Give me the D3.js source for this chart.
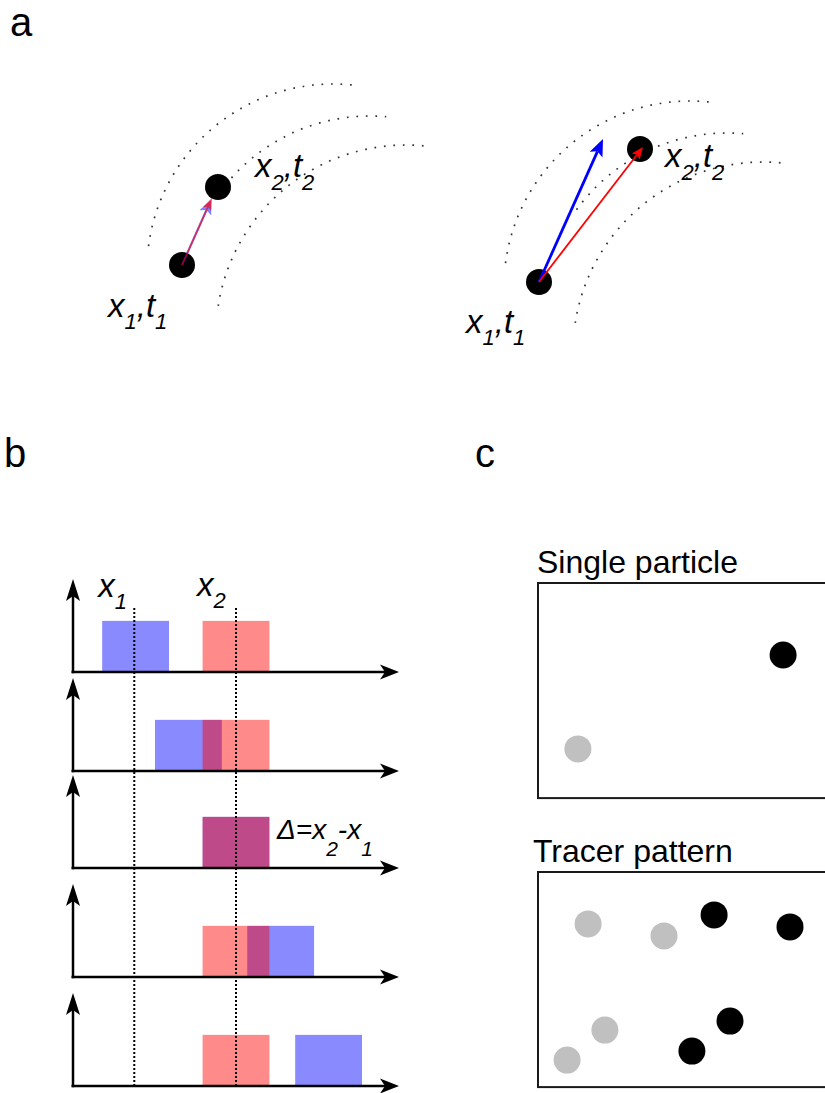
<!DOCTYPE html>
<html>
<head>
<meta charset="utf-8">
<script src="https://cdn.jsdelivr.net/npm/d3@7"></script>
<style>
  html, body { margin: 0; padding: 0; background: #fff; }
  svg { display: block; }
  text { font-family: "Liberation Sans", Arial, sans-serif; fill: #000; }
</style>
</head>
<body>
<svg id="fig" width="825" height="1093"></svg>
<script>
// ---------- data ----------
const panelIds = ["a", "b", "c"];

// Panel a: streamlines (arc centre, radius, angular extent in degrees) and particles, in field units
const streamCenters = [[23.3, 21.0], [27.0, 24.2], [30.6, 27.5]];
const streamRadii = [18.6, 18.6, 19.0];
const streamStartDeg = [187.4, 216.0, 188.8];
const streamEndDeg = [277.4, 275.0, 276.0];
const rightShift = [35.7, 1.7];                 // offset of the second sketch
const leftParticles = [[8.2, 20.5], [11.8, 12.7]];
const rightParticles = [[43.9, 22.2], [54.0, 8.9]];
const leftBlueTip = [11.1, 14.0];
const leftRedTip = [11.2, 13.8];
const rightBlueTip = [50.3, 7.9];
const rightRedTip = [54.3, 8.7];

// Panel b: interrogation windows and correlation peaks
const windowPos = [1.88, 5.0];                  // x1, x2
const windowSubs = ["1", "2"];
const windowWidth = 2.05;
const peakHeight = 0.55;
const bluePos = [1.92, 3.54, 5.0, 6.37, 7.84];
const redPos = [5.0, 5.0, 5.0, 5.0, 5.0];

// Panel c: particle images at t1 (grey) and t2 (black)
const singleT1 = [[1.33, 5.53]];
const singleT2 = [[8.17, 2.40]];
const tracerT1 = [[1.67, 1.73], [4.20, 2.13], [2.23, 5.27], [0.97, 6.27]];
const tracerT2 = [[5.87, 1.43], [8.40, 1.83], [6.40, 4.97], [5.13, 5.97]];

// ---------- helpers ----------
const svg = d3.select("#fig");

function subText(g, x, y, parts, size, subSize, shift, italic) {
  const t = g.append("text").attr("x", x).attr("y", y)
    .attr("font-size", size).attr("font-style", italic ? "italic" : "normal");
  let down = false;
  parts.forEach(([s, isSub]) => {
    const ts = t.append("tspan").text(s);
    if (isSub && !down) { ts.attr("dy", shift).attr("font-size", subSize); down = true; }
    else if (isSub) { ts.attr("font-size", subSize); }
    else if (!isSub && down) { ts.attr("dy", -shift); down = false; }
  });
  return t;
}

function arrow(g, x0, y0, x1, y1, o) {
  const dx = x1 - x0, dy = y1 - y0, d = Math.hypot(dx, dy);
  const ux = dx / d, uy = dy / d, px = -uy, py = ux;
  const nx = x1 - ux * (o.len - o.notch), ny = y1 - uy * (o.len - o.notch);
  const bx = x1 - ux * o.len, by = y1 - uy * o.len;
  const grp = g.append("g").attr("opacity", o.opacity == null ? 1 : o.opacity);
  grp.append("line").attr("x1", x0).attr("y1", y0).attr("x2", nx).attr("y2", ny)
    .attr("stroke", o.color).attr("stroke-width", o.width);
  grp.append("path")
    .attr("d", d3.line()([[x1, y1], [bx + px * o.half, by + py * o.half], [nx, ny], [bx - px * o.half, by - py * o.half]]) + "Z")
    .attr("fill", o.color);
}

// ---------- panel labels ----------
const labelPos = { a: [10, 36], b: [4, 467], c: [475, 467] };
svg.selectAll("text.panel").data(panelIds).join("text")
  .attr("class", "panel")
  .attr("x", d => labelPos[d][0]).attr("y", d => labelPos[d][1])
  .attr("font-size", 40).text(d => d);

// ---------- panel a ----------
const ax = d3.scaleLinear().domain([0, 72.5]).range([100, 825]);
const ay = d3.scaleLinear().domain([0, 30]).range([60, 360]);
const gA = svg.append("g");

function sketch(offset, particles) {
  const g = gA.append("g");
  // dotted streamlines
  streamCenters.forEach((c, i) => {
    const cx = ax(c[0] + offset[0]), cy = ay(c[1] + offset[1]);
    const r = ax(c[0] + streamRadii[i]) - ax(c[0]);
    const p = d3.path();
    const a0 = streamStartDeg[i] * Math.PI / 180, a1 = streamEndDeg[i] * Math.PI / 180;
    p.moveTo(cx + r * Math.cos(a0), cy + r * Math.sin(a0));
    p.arc(cx, cy, r, a0, a1, false);
    g.append("path").attr("d", p.toString()).attr("fill", "none")
      .attr("stroke", "#333").attr("stroke-width", 1.7)
      .attr("stroke-dasharray", "1.7 7.8");
  });
  // particle images
  g.selectAll("circle").data(particles).join("circle")
    .attr("cx", d => ax(d[0])).attr("cy", d => ay(d[1])).attr("r", 13).attr("fill", "#000");
  return g;
}

const gLeft = sketch([0, 0], leftParticles);
arrow(gLeft, ax(leftParticles[0][0]), ay(leftParticles[0][1]), ax(leftBlueTip[0]), ay(leftBlueTip[1]),
  { color: "#0000ff", width: 2.2, len: 14, half: 6.5, notch: 3, opacity: 0.5 });
arrow(gLeft, ax(leftParticles[0][0]), ay(leftParticles[0][1]), ax(leftRedTip[0]), ay(leftRedTip[1]),
  { color: "#ff0000", width: 1.6, len: 12, half: 4.5, notch: 2.5, opacity: 0.65 });

const gRight = sketch(rightShift, rightParticles);
arrow(gRight, ax(rightParticles[0][0]), ay(rightParticles[0][1]), ax(rightBlueTip[0]), ay(rightBlueTip[1]),
  { color: "#0000ff", width: 2.8, len: 17, half: 7, notch: 3.5 });
arrow(gRight, ax(rightParticles[0][0]), ay(rightParticles[0][1]), ax(rightRedTip[0]), ay(rightRedTip[1]),
  { color: "#ff0000", width: 1.8, len: 12, half: 5, notch: 2.5 });

subText(gA, 108, 317, [["x", false], ["1", true], [",", false], ["t", false], ["1", true]], 33, 22, 12, true);
subText(gA, 255, 177, [["x", false], ["2", true], [",", false], ["t", false], ["2", true]], 33, 22, 13, true);
subText(gA, 466, 333, [["x", false], ["1", true], [",", false], ["t", false], ["1", true]], 33, 22, 12, true);
subText(gA, 665, 167, [["x", false], ["2", true], [",", false], ["t", false], ["2", true]], 33, 22, 13, true);

// ---------- panel b ----------
const bx = d3.scaleLinear().domain([0, 10]).range([73, 399]);
const rowAxisY = [672, 771, 868, 977, 1086];
const axisH = 93;
const gB = svg.append("g");

rowAxisY.forEach((y0, i) => {
  const by = d3.scaleLinear().domain([0, 1]).range([y0, y0 - axisH]);
  const row = gB.append("g");
  row.append("rect")
    .attr("x", bx(bluePos[i] - windowWidth / 2)).attr("width", bx(windowWidth) - bx(0))
    .attr("y", by(peakHeight)).attr("height", by(0) - by(peakHeight))
    .attr("fill", "#0000ff").attr("fill-opacity", 0.46);
  row.append("rect")
    .attr("x", bx(redPos[i] - windowWidth / 2)).attr("width", bx(windowWidth) - bx(0))
    .attr("y", by(peakHeight)).attr("height", by(0) - by(peakHeight))
    .attr("fill", "#ff0000").attr("fill-opacity", 0.46);
});

// window positions
gB.selectAll("line.win").data(windowPos).join("line")
  .attr("class", "win")
  .attr("x1", d => bx(d)).attr("x2", d => bx(d))
  .attr("y1", 608).attr("y2", 1088)
  .attr("stroke", "#000").attr("stroke-width", 2).attr("stroke-dasharray", "2 2");

// axes with arrowheads
rowAxisY.forEach(y0 => {
  arrow(gB, bx(0), y0 + 1.25, bx(0), y0 - axisH, { color: "#000", width: 2.5, len: 22, half: 7, notch: 5 });
  arrow(gB, bx(0) - 1.5, y0, 399, y0, { color: "#000", width: 2.5, len: 19, half: 7.5, notch: 5 });
});

windowPos.forEach((p, i) => {
  subText(gB, bx(p) + (i === 0 ? -36 : -39), i === 0 ? 597 : 596,
    [["x", false], [windowSubs[i], true]], 33, 22, 12, true);
});
subText(gB, 277, 839, [["Δ=x", false], ["2", true], ["-x", false], ["1", true]], 28, 21, 17, true);

// ---------- panel c ----------
const cxs = d3.scaleLinear().domain([0, 10]).range([538, 838]);
const gC = svg.append("g");
const boxes = [
  { title: "Single particle", top: 583, titleY: 573, titleX: 537, t1: singleT1, t2: singleT2 },
  { title: "Tracer pattern", top: 872, titleY: 862, titleX: 533, t1: tracerT1, t2: tracerT2 }
];
boxes.forEach(b => {
  const cys = d3.scaleLinear().domain([0, 7.2]).range([b.top, b.top + 216]);
  const g = gC.append("g");
  g.append("text").attr("x", b.titleX).attr("y", b.titleY).attr("font-size", 32).text(b.title);
  g.append("rect").attr("x", cxs(0)).attr("y", cys(0))
    .attr("width", cxs(10) - cxs(0)).attr("height", cys(7.17) - cys(0))
    .attr("fill", "none").attr("stroke", "#1a1a1a").attr("stroke-width", 2);
  g.selectAll("circle.t1").data(b.t1).join("circle").attr("class", "t1")
    .attr("cx", d => cxs(d[0])).attr("cy", d => cys(d[1])).attr("r", 13.5).attr("fill", "#c0c0c0");
  g.selectAll("circle.t2").data(b.t2).join("circle").attr("class", "t2")
    .attr("cx", d => cxs(d[0])).attr("cy", d => cys(d[1])).attr("r", 13.5).attr("fill", "#000");
});
</script>
</body>
</html>
